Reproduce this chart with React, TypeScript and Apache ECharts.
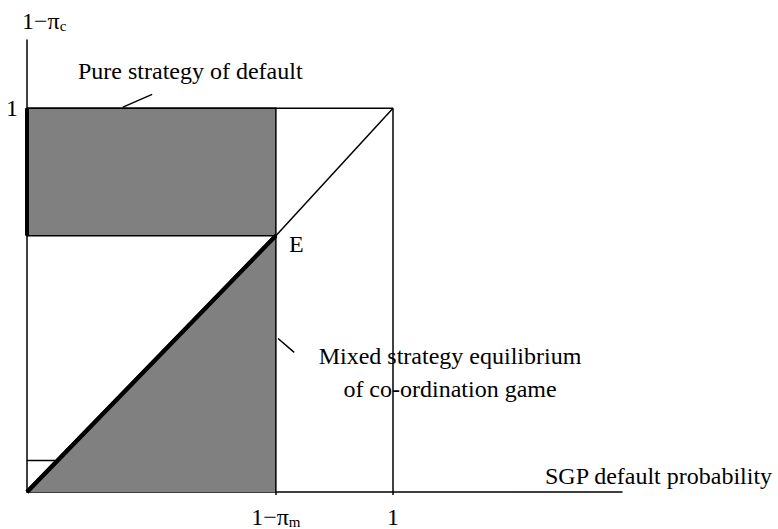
import React, { useEffect, useRef } from "react";
import * as echarts from "echarts";

// Data (axis units: 1 = full probability)
const X_MAX = 1.6257;
const Y_MAX = 1.1778;
const X_TICKS = [0.68, 1];
const X_TICK_LABELS = ["{a|1−π}{b|m}", "{a|1}"];
const Y_TICKS = [1];
const Y_TICK_LABELS = ["1"];
const PURE_RECT = [[0, 0.668], [0.68, 1]];
const TRIANGLE = [[0, 0], [0.68, 0.668]];
const THIN_SEGMENTS = [
  [[0, 1], [1, 1]],
  [[1, 1], [1, 0]],
  [[0.68, 0.668], [1, 1]],
  [[0.68, 0], [0.68, 0.668]],
  [[0, 0.082], [0.077, 0.082]],
  [[0.262, 1.003], [0.342, 1.036]],
  [[0.686, 0.4], [0.73, 0.364]],
];
const THICK_SEGMENTS = [[[0, 1], [0, 0.668]]];

const FONT = "'Liberation Serif', 'Times New Roman', serif";
const GRAY = "#808080";

export default function App() {
  const ref = useRef<HTMLDivElement>(null);
  useEffect(() => {
    if (!ref.current) return;
    const chart = echarts.init(ref.current, null, { renderer: "svg" });
    const seg = (d: number[][], w: number) => ({
      type: "line",
      data: d,
      symbol: "none",
      silent: true,
      lineStyle: { color: "#000", width: w },
      z: 5,
    });
    const txt = (text: string, x: number, y: number, align = "left", rich?: any) => ({
      type: "text",
      x,
      y,
      silent: true,
      style: {
        text,
        fill: "#000",
        fontSize: 24,
        fontFamily: FONT,
        align,
        verticalAlign: "middle",
        textAlign: align,
        textVerticalAlign: "middle",
        rich,
      },
    });
    chart.setOption({
      animation: false,
      grid: { left: 27, top: 40, right: 156, bottom: 32 },
      xAxis: {
        type: "value",
        min: 0,
        max: X_MAX,
        splitLine: { show: false },
        axisLine: { lineStyle: { color: "#000", width: 1.5 } },
        axisTick: { customValues: X_TICKS, length: 3, lineStyle: { color: "#000", width: 1.5 } },
        axisLabel: {
          customValues: X_TICKS,
          margin: 11,
          formatter: (v: number) => X_TICK_LABELS[X_TICKS.findIndex((t) => Math.abs(t - v) < 1e-6)] ?? "",
          rich: {
            a: { fontSize: 24, fontFamily: FONT, color: "#000", verticalAlign: "bottom", lineHeight: 26 },
            b: { fontSize: 15, fontFamily: FONT, color: "#000", verticalAlign: "bottom", lineHeight: 26 },
          },
        },
      },
      yAxis: {
        type: "value",
        min: 0,
        max: Y_MAX,
        splitLine: { show: false },
        axisLine: { lineStyle: { color: "#000", width: 1.5 } },
        axisTick: { show: false },
        axisLabel: {
          customValues: Y_TICKS,
          margin: 9,
          fontSize: 24,
          fontFamily: FONT,
          color: "#000",
          formatter: (v: number) => (Math.abs(v - 1) < 1e-6 ? Y_TICK_LABELS[0] : ""),
        },
      },
      series: [
        {
          type: "line",
          data: [],
          silent: true,
          markArea: {
            silent: true,
            itemStyle: { color: GRAY, borderColor: "#000", borderWidth: 1.5 },
            data: [[{ coord: PURE_RECT[0] }, { coord: PURE_RECT[1] }]],
          },
        },
        {
          type: "line",
          data: TRIANGLE,
          symbol: "none",
          silent: true,
          lineStyle: { color: "#000", width: 4 },
          areaStyle: { color: GRAY, opacity: 1 },
          z: 4,
        },
        ...THIN_SEGMENTS.map((d) => seg(d, 1.5)),
        ...THICK_SEGMENTS.map((d) => seg(d, 4)),
        {
          type: "line",
          data: TRIANGLE,
          symbol: "none",
          silent: true,
          lineStyle: { color: "#000", width: 4 },
          z: 6,
        },
      ],
      graphic: [
        txt("{a|1−π}{b|c}", 22, 20, "left", {
          a: { fontSize: 24, fontFamily: FONT, fill: "#000", verticalAlign: "bottom", lineHeight: 26 },
          b: { fontSize: 15, fontFamily: FONT, fill: "#000", verticalAlign: "bottom", lineHeight: 26 },
        }),
        txt("Pure strategy of default", 78, 71),
        txt("E", 289, 244),
        txt("Mixed strategy equilibrium", 450, 356, "center"),
        txt("of co-ordination game", 450, 389, "center"),
        txt("SGP default probability", 545, 476),
      ],
    });
    return () => chart.dispose();
  }, []);
  return (
    <div
      ref={ref}
      style={{ position: "fixed", left: 0, top: 0, width: 778, height: 529, background: "#fff" }}
    />
  );
}
